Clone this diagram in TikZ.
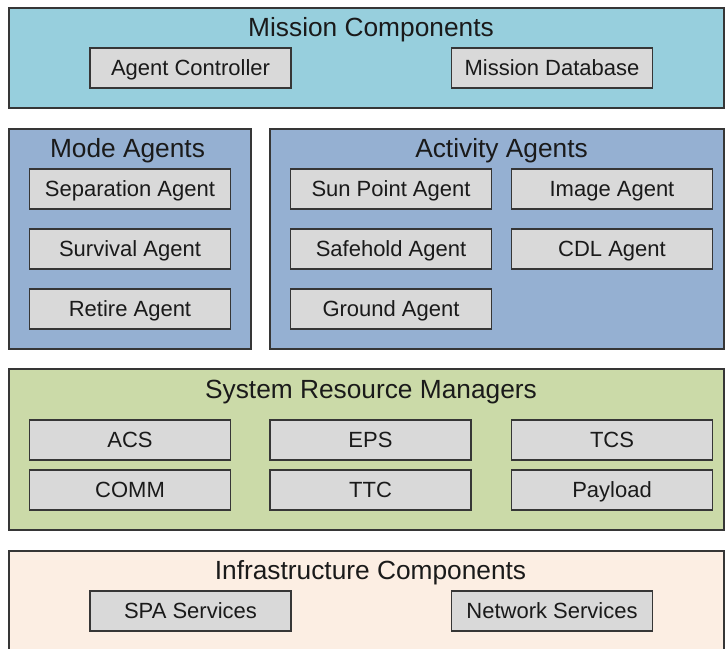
\documentclass[tikz,border=0pt]{standalone}
\usepackage{fontspec}
\setmainfont{Liberation Sans}
\definecolor{edge}{HTML}{363636}
\definecolor{ink}{HTML}{1A1A1A}
\definecolor{missionfill}{HTML}{97CFDD}
\definecolor{agentfill}{HTML}{95B0D2}
\definecolor{resourcefill}{HTML}{CBDAA8}
\definecolor{infrafill}{HTML}{FCEEE3}
\definecolor{itemfill}{HTML}{D9D9D9}
\tikzset{
  x=1pt, y=-1pt,
  layer/.style={draw=edge, line width=1.2pt, rectangle, inner sep=0pt},
  item/.style={draw=edge, line width=1.2pt, fill=itemfill, rectangle, inner sep=0pt,
    minimum width=201pt, minimum height=40pt, text=ink,
    font=\fontsize{22}{24}\selectfont, text height=15.8pt, text depth=0pt},
  heading/.style={anchor=base, inner sep=0pt, text=ink, font=\fontsize{26.3}{28}\selectfont},
}
\begin{document}
\begin{tikzpicture}
\clip (0,0) rectangle (725,648);

% layer frames
\node[layer, fill=missionfill, minimum width=715pt, minimum height=100pt] (mission) at (366.5,58) {};
\node[layer, fill=agentfill, minimum width=242pt, minimum height=220pt] (mode) at (130,239) {};
\node[layer, fill=agentfill, minimum width=454pt, minimum height=220pt] (activity) at (497,239) {};
\node[layer, fill=resourcefill, minimum width=715pt, minimum height=161pt] (resource) at (366.5,449.5) {};
\node[layer, fill=infrafill, minimum width=715pt, minimum height=130pt] (infra) at (366.5,616) {};

% headings
\node[heading] (missiontitle) at (371,36) {Mission Components};
\node[heading] (modetitle) at (127.5,157) {Mode Agents};
\node[heading] (activitytitle) at (501.5,157) {Activity Agents};
\node[heading] (resourcetitle) at (371,398) {System Resource Managers};
\node[heading] (infratitle) at (370.5,579) {Infrastructure Components};

% mission components
\node[item] (controller) at (190.5,68) {Agent Controller};
\node[item] (database) at (552,68) {Mission Database};

% mode agents
\node[item] (separation) at (130,189) {Separation Agent};
\node[item] (survival) at (130,249) {Survival Agent};
\node[item] (retire) at (130,309) {Retire Agent};

% activity agents
\node[item] (sunpoint) at (391,189) {Sun Point Agent};
\node[item] (image) at (612,189) {Image Agent};
\node[item] (safehold) at (391,249) {Safehold Agent};
\node[item] (cdl) at (612,249) {CDL Agent};
\node[item] (ground) at (391,309) {Ground Agent};

% system resource managers
\node[item] (acs) at (130,440) {ACS};
\node[item] (eps) at (370.5,440) {EPS};
\node[item] (tcs) at (612,440) {TCS};
\node[item] (comm) at (130,490) {COMM};
\node[item] (ttc) at (370.5,490) {TTC};
\node[item] (payload) at (612,490) {Payload};

% infrastructure components
\node[item] (spa) at (190.5,611) {SPA Services};
\node[item] (network) at (552,611) {Network Services};
\end{tikzpicture}
\end{document}
